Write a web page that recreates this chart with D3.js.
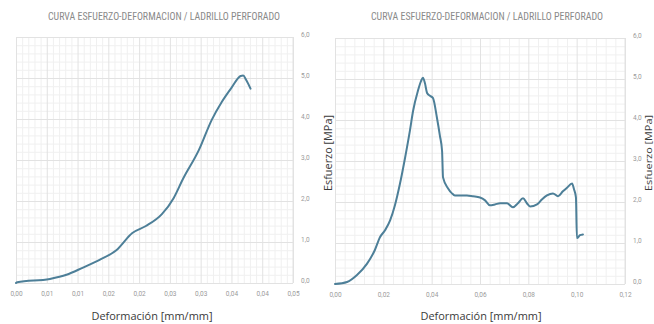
<!DOCTYPE html>
<html>
<head>
<meta charset="utf-8">
<script src="https://cdn.jsdelivr.net/npm/d3@7/dist/d3.min.js"></script>
<style>
  html, body { margin: 0; padding: 0; background: #fff; overflow: hidden; }
  svg { display: block; }
</style>
</head>
<body>
<svg id="chart" width="654" height="324"></svg>
<script>
// Ensayo 1: strain [mm/mm] and stress [MPa]
const leftStrain = [0, 0.0002, 0.0055, 0.0082, 0.0108, 0.0135, 0.0163, 0.0189, 0.0211, 0.0237, 0.0256, 0.0271, 0.0297, 0.0318, 0.0334, 0.0350, 0.0365, 0.0369, 0.0374, 0.0381];
const leftStress = [0, 0.02, 0.10, 0.20, 0.37, 0.56, 0.80, 1.22, 1.39, 1.68, 2.07, 2.53, 3.24, 3.98, 4.41, 4.76, 5.05, 5.06, 4.95, 4.74];

// Ensayo 2: strain [mm/mm] and stress [MPa]
const rightStrain = [0, 0.005, 0.0091, 0.0132, 0.0165, 0.0186, 0.0207, 0.0228, 0.0248, 0.0269, 0.029, 0.031, 0.0323, 0.0343, 0.0356, 0.0364, 0.0372, 0.0381, 0.0393, 0.0405, 0.0422, 0.0434, 0.0443, 0.0447, 0.0468, 0.0484, 0.0496, 0.0525, 0.0546, 0.0571, 0.06, 0.0621, 0.0641, 0.0662, 0.0683, 0.0712, 0.0736, 0.0757, 0.0778, 0.0794, 0.0807, 0.0836, 0.0856, 0.0877, 0.0902, 0.0923, 0.0943, 0.096, 0.0981, 0.0989, 0.0997, 0.1001, 0.1014, 0.1026];
const rightStress = [0, 0.05, 0.22, 0.49, 0.83, 1.14, 1.31, 1.55, 1.92, 2.45, 3.08, 3.74, 4.22, 4.71, 4.95, 5.03, 4.90, 4.66, 4.59, 4.54, 4.05, 3.62, 3.25, 2.60, 2.33, 2.21, 2.16, 2.16, 2.16, 2.14, 2.11, 2.04, 1.92, 1.94, 1.97, 1.97, 1.87, 1.97, 2.09, 1.97, 1.89, 1.94, 2.06, 2.16, 2.21, 2.14, 2.26, 2.35, 2.45, 2.31, 2.11, 1.12, 1.19, 1.21];

// Tick values and labels
const leftXTicks = [0, 0.005, 0.01, 0.015, 0.02, 0.025, 0.03, 0.035, 0.04, 0.045];
const leftXLabels = ["0,00", "0,01", "0,01", "0,02", "0,02", "0,03", "0,03", "0,04", "0,04", "0,05"];
const rightXTicks = [0, 0.02, 0.04, 0.06, 0.08, 0.10, 0.12];
const rightXLabels = ["0,00", "0,02", "0,04", "0,06", "0,08", "0,10", "0,12"];
const yTicks = [0, 1, 2, 3, 4, 5, 6];
const yLabels = ["0,0", "1,0", "2,0", "3,0", "4,0", "5,0", "6,0"];

const titleText = "CURVA ESFUERZO-DEFORMACION / LADRILLO PERFORADO";
const xTitle = "Deformación [mm/mm]";
const yTitle = "Esfuerzo [MPa]";

const svg = d3.select("#chart");
const lineColor = "#4d7f98";

function drawPanel(cfg) {
  const g = svg.append("g");
  const x = d3.scaleLinear().domain(cfg.xDomain).range([cfg.x0, cfg.x1]);
  const y = d3.scaleLinear().domain([0, 6]).range([cfg.y0, cfg.y1]);
  const h = cfg.y0 - cfg.y1;
  const w = cfg.x1 - cfg.x0;

  // minor grid
  const xMinor = [];
  const step = cfg.xTicks[1] - cfg.xTicks[0];
  for (let i = 0; i < cfg.xTicks.length - 1; i++) {
    for (let k = 1; k < 5; k++) xMinor.push(cfg.xTicks[i] + step * k / 5);
  }
  const yMinor = [];
  for (let i = 0; i < 6; i++) for (let k = 1; k < 5; k++) yMinor.push(i + k / 5);

  g.append("g")
    .attr("transform", `translate(0,${cfg.y0})`)
    .call(d3.axisBottom(x).tickValues(xMinor).tickSize(-h).tickFormat(""))
    .call(a => a.select(".domain").remove())
    .selectAll("line").attr("stroke", "#f0f0f0").attr("stroke-width", 1);
  g.append("g")
    .attr("transform", `translate(${cfg.x0},0)`)
    .call(d3.axisLeft(y).tickValues(yMinor).tickSize(-w).tickFormat(""))
    .call(a => a.select(".domain").remove())
    .selectAll("line").attr("stroke", "#f0f0f0").attr("stroke-width", 1);

  // major grid
  g.append("g")
    .attr("transform", `translate(0,${cfg.y0})`)
    .call(d3.axisBottom(x).tickValues(cfg.xTicks).tickSize(-h).tickFormat(""))
    .call(a => a.select(".domain").remove())
    .selectAll("line").attr("stroke", "#e2e2e2").attr("stroke-width", 1);
  g.append("g")
    .attr("transform", `translate(${cfg.x0},0)`)
    .call(d3.axisLeft(y).tickValues(yTicks).tickSize(-w).tickFormat(""))
    .call(a => a.select(".domain").remove())
    .selectAll("line").attr("stroke", "#e2e2e2").attr("stroke-width", 1);

  // right border of plot area
  g.append("line")
    .attr("x1", cfg.x1).attr("x2", cfg.x1)
    .attr("y1", cfg.y1).attr("y2", cfg.y0)
    .attr("stroke", "#e2e2e2");

  // x tick labels
  const xAxis = g.append("g")
    .attr("transform", `translate(0,${cfg.y0 + 5})`)
    .call(d3.axisBottom(x).tickValues(cfg.xTicks).tickSize(0)
      .tickFormat((d, i) => cfg.xLabels[i]));
  xAxis.select(".domain").remove();
  xAxis.selectAll("text")
    .attr("font-family", "Roboto, 'Liberation Sans', sans-serif")
    .attr("font-size", 6.5).attr("fill", "#9a9a9a");

  // y tick labels on the right
  const yAxis = g.append("g")
    .attr("transform", `translate(${cfg.x1 + 5},0)`)
    .call(d3.axisRight(y).tickValues(yTicks).tickSize(0)
      .tickFormat((d, i) => yLabels[i]));
  yAxis.select(".domain").remove();
  yAxis.selectAll("text")
    .attr("font-family", "Roboto, 'Liberation Sans', sans-serif")
    .attr("font-size", 6.5).attr("fill", "#9a9a9a")
    .attr("dy", "-0.1em");

  // curve
  const pts = cfg.strain.map((s, i) => [s, cfg.stress[i]]);
  g.append("path")
    .datum(pts)
    .attr("fill", "none")
    .attr("stroke", lineColor)
    .attr("stroke-width", 2)
    .attr("stroke-linejoin", "round")
    .attr("stroke-linecap", "round")
    .attr("d", d3.line().x(d => x(d[0])).y(d => y(d[1])).curve(d3.curveMonotoneX));

  // title
  g.append("text")
    .attr("x", cfg.titleX).attr("y", 20)
    .attr("text-anchor", "middle")
    .attr("font-family", "'Liberation Sans Narrow', 'Roboto Condensed', Roboto, sans-serif")
    .attr("font-size", 10)
    .attr("fill", "#8a8a8a")
    .attr("textLength", 232).attr("lengthAdjust", "spacingAndGlyphs")
    .text(titleText);

  // x axis title
  g.append("text")
    .attr("x", cfg.xTitleX).attr("y", 320)
    .attr("text-anchor", "middle")
    .attr("font-family", "'Open Sans', 'Noto Sans', sans-serif")
    .attr("font-size", 10.5)
    .attr("fill", "#3a3a3a")
    .attr("textLength", 121).attr("lengthAdjust", "spacingAndGlyphs")
    .text(xTitle);

  // y axis title (rotated, right of the tick labels)
  g.append("text")
    .attr("transform", `translate(${cfg.yTitleX},${153}) rotate(-90)`)
    .attr("text-anchor", "middle")
    .attr("font-family", "'Open Sans', 'Noto Sans', sans-serif")
    .attr("font-size", cfg.yTitleSize)
    .attr("fill", "#3a3a3a")
    .attr("textLength", 76).attr("lengthAdjust", "spacingAndGlyphs")
    .text(yTitle);
}

drawPanel({
  xDomain: [0, 0.045], x0: 16, x1: 293, y0: 283, y1: 37,
  xTicks: leftXTicks, xLabels: leftXLabels,
  strain: leftStrain, stress: leftStress,
  titleX: 164, xTitleX: 152, yTitleX: 332, yTitleSize: 10.5
});

drawPanel({
  xDomain: [0, 0.12], x0: 335, x1: 625, y0: 284, y1: 38,
  xTicks: rightXTicks, xLabels: rightXLabels,
  strain: rightStrain, stress: rightStress,
  titleX: 487, xTitleX: 481, yTitleX: 652, yTitleSize: 8.5
});
</script>
</body>
</html>
